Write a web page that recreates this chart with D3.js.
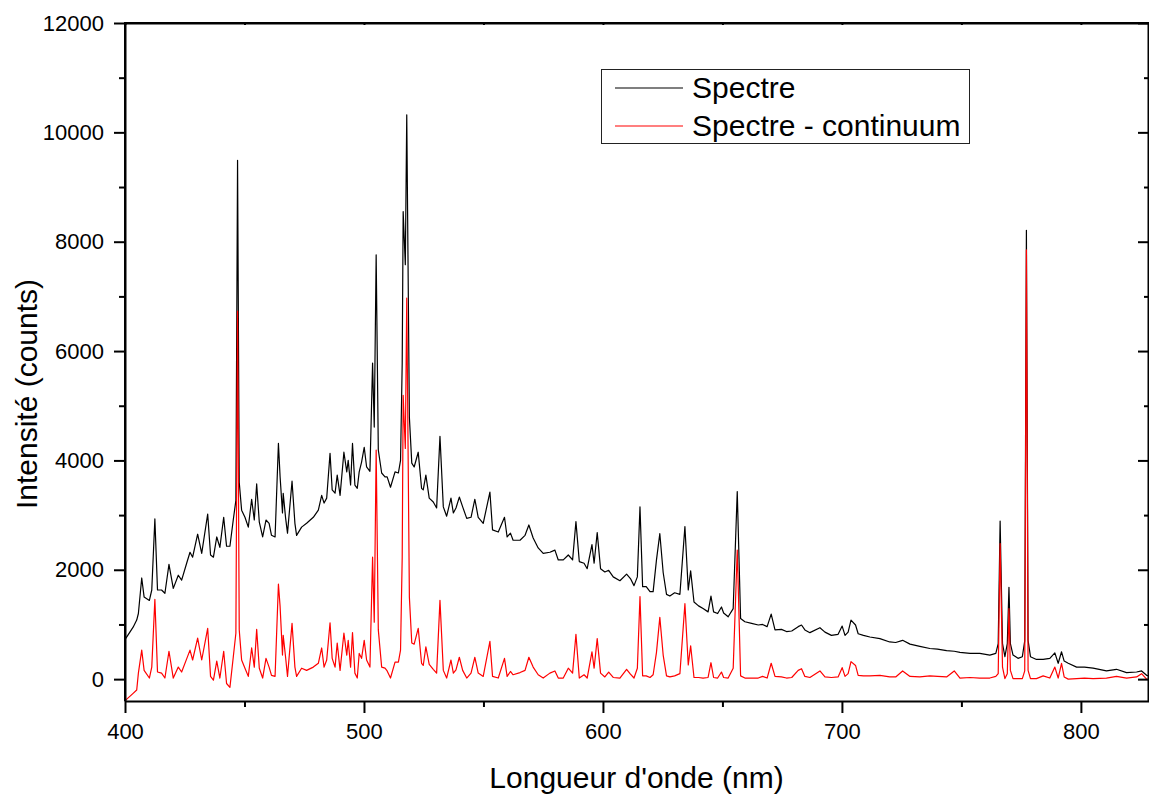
<!DOCTYPE html>
<html>
<head>
<meta charset="utf-8">
<script src="https://cdn.jsdelivr.net/npm/d3@7/dist/d3.min.js"></script>
<style>
  html, body { margin: 0; padding: 0; background: #fff; }
  svg { display: block; font-family: "Liberation Sans", Arial, sans-serif; }
</style>
</head>
<body>
<svg id="chart" width="1149" height="797"></svg>
<script>
// ---- Data ----
const wavelength = [
400.0,400.4,403.4,404.9,405.6,407.0,408.0,410.2,411.2,412.5,413.6,415.3,416.7,418.4,420.2,422.3,423.7,425.8,427.2,428.3,
430.4,432.1,434.6,435.8,437.0,438.4,439.7,441.3,442.5,443.9,445.3,446.4,447.1,447.8,448.8,450.2,451.6,453.0,454.1,455.1,
456.2,457.6,459.0,460.3,461.3,462.8,464.2,464.9,465.9,466.2,467.2,468.0,469.9,471.1,471.8,473.9,476.0,478.8,480.9,482.3,
483.3,484.4,485.8,486.7,487.9,488.8,490.0,491.6,492.8,493.4,494.4,495.2,496.2,497.2,498.0,499.0,500.1,501.1,502.5,503.6,
504.3,505.1,506.0,507.4,508.8,509.7,511.1,513.0,514.4,515.3,516.0,516.4,517.3,517.9,519.0,520.0,521.0,522.7,524.1,524.8,
525.9,527.3,529.0,530.4,531.8,533.2,534.6,536.4,537.4,538.5,539.9,541.3,543.0,544.8,546.4,547.8,549.9,552.7,553.8,556.2,
558.8,559.9,561.3,562.4,565.3,567.4,569.0,570.8,572.9,575.0,577.8,579.9,581.3,583.4,585.5,587.3,588.7,590.1,592.1,593.4,
595.4,596.3,597.6,599.0,600.8,602.4,604.3,607.1,609.9,611.5,613.0,614.4,615.5,616.6,618.1,619.7,621.0,622.4,623.8,625.2,
626.6,628.0,630.0,632.2,634.3,635.7,636.7,638.1,640.0,641.9,644.0,645.2,646.3,648.0,649.6,650.5,652.4,654.5,656.2,657.6,
659.4,662.2,665.0,666.8,668.7,670.4,672.0,674.7,676.8,679.0,681.7,683.1,684.5,686.6,690.8,692.9,695.6,698.4,700.1,701.3,
702.6,703.8,705.7,706.8,709.0,711.7,715.9,720.0,722.5,725.4,728.5,732.6,736.8,740.0,743.8,747.0,749.4,753.6,757.7,761.9,
764.4,765.4,766.2,767.2,768.2,769.2,769.9,770.5,771.6,773.7,775.5,776.5,777.2,777.9,778.9,781.4,784.2,787.0,789.1,790.5,
791.9,793.0,794.7,798.2,801.5,805.1,810.7,814.9,819.1,823.3,825.4,827.5,828.5
];
const spectre = [
730,750,950,1080,1200,1850,1500,1440,1630,2930,1630,1630,1570,2100,1660,1900,1810,2120,2320,2230,
2650,2300,3020,2270,2230,2600,2410,2960,2430,2430,2910,3270,9490,3600,3090,2960,2780,3290,2910,3570,
2870,2600,2910,2850,2630,2600,4310,3700,3040,3400,2950,2670,3620,2850,2630,2780,2850,2960,3090,3360,
3220,3310,4130,3460,3400,3730,3360,4150,3790,4000,3550,4310,3550,3490,3790,3970,4240,3880,3800,5780,
4610,7760,4190,3770,3700,3700,3510,3790,3770,4000,5780,8550,7580,10320,4790,3950,3880,4150,3490,3460,
3730,3310,3240,3130,4440,3150,2980,3310,3040,3130,3330,3150,2940,2960,3290,2960,2850,3420,2730,2690,
2960,2600,2670,2540,2540,2630,2820,2580,2400,2300,2320,2360,2180,2180,2270,2180,2880,2150,2120,2020,
2460,2120,2680,2020,1960,1990,1870,1800,1920,1840,1710,1870,3150,1690,1690,1600,1600,2180,2660,1950,
1550,1520,1580,1550,2790,1630,1980,1410,1340,1290,1230,1520,1230,1200,1320,1210,1140,1290,3430,1110,
1050,1020,990,1000,960,1190,900,910,870,880,960,990,900,850,940,860,800,820,970,800,
860,1080,990,830,800,770,740,680,670,710,640,600,560,550,520,510,490,470,470,440,
470,650,2890,650,410,650,1680,650,440,380,410,700,8210,710,410,360,360,380,480,290,
500,330,290,220,220,200,150,180,120,130,150,70,60
];
const spectreMoinsContinuum = [
-390,-380,-260,-200,110,530,160,20,220,1460,130,110,20,510,20,220,130,370,530,350,
750,350,930,50,-20,330,20,510,-80,-150,400,840,6730,900,350,200,50,570,220,910,
200,20,380,220,70,50,1740,1330,440,800,400,50,1020,220,50,200,160,220,290,570,
220,350,1030,380,220,660,160,840,440,710,220,850,110,20,470,380,710,350,220,2230,
1040,4190,900,220,200,150,20,310,310,530,2230,5190,4220,6970,1500,660,640,930,290,250,
590,270,180,110,1440,160,20,350,110,170,400,160,20,110,400,110,50,690,50,20,
380,50,140,80,120,160,400,220,80,20,110,150,20,20,200,110,820,20,80,20,
500,200,740,110,40,130,30,20,180,90,20,200,1510,60,60,30,80,490,1130,440,
60,40,60,100,1380,260,610,30,30,20,30,300,30,20,130,30,20,200,2360,60,
20,20,20,50,20,290,50,40,20,30,160,190,50,30,150,40,30,40,210,50,
100,320,250,70,60,60,70,40,40,150,50,40,60,50,40,150,20,30,20,20,
50,100,2480,220,10,100,1290,160,10,10,10,150,7850,160,10,10,60,20,220,20,
290,40,0,10,20,10,20,50,20,40,100,0,-10
];
const seriesNames = ["Spectre", "Spectre - continuum"];
const seriesColors = ["#000000", "#ff0000"];
const xMajorTicks = [400, 500, 600, 700, 800];
const xMinorTicks = [450, 550, 650, 750];
const yMajorTicks = [0, 2000, 4000, 6000, 8000, 10000, 12000];
const yMinorTicks = [1000, 3000, 5000, 7000, 9000, 11000];
const xTitle = "Longueur d'onde (nm)";
const yTitle = "Intensité (counts)";

// ---- Layout ----
const L = 125, R = 1148, T = 23, B = 701;
const svg = d3.select("#chart");
const x = d3.scaleLinear().domain([400, 828.5]).range([L, R + 1]);
const y = d3.scaleLinear().domain([-400, 12000]).range([B, T]);

const rows = wavelength.map((w, i) => ({ w, a: spectre[i], b: spectreMoinsContinuum[i] }));

// data lines
const lineA = d3.line().x(d => x(d.w)).y(d => y(d.a));
const lineB = d3.line().x(d => x(d.w)).y(d => y(d.b));
svg.append("path").datum(rows).attr("d", lineA)
  .attr("fill", "none").attr("stroke", seriesColors[0]).attr("stroke-width", 1.2).attr("stroke-linejoin", "round");
svg.append("path").datum(rows).attr("d", lineB)
  .attr("fill", "none").attr("stroke", seriesColors[1]).attr("stroke-width", 1.2).attr("stroke-linejoin", "round");

// axes
const axisStyle = g => {
  g.selectAll(".domain").attr("stroke", "#000").attr("stroke-width", 2);
  g.selectAll(".tick line").attr("stroke", "#000").attr("stroke-width", 2);
};
// bottom
const gB = svg.append("g").attr("transform", `translate(0,${B})`);
gB.call(d3.axisBottom(x).tickValues(xMajorTicks).tickSize(12).tickSizeOuter(0).tickPadding(10).tickFormat(d3.format("d")));
gB.call(axisStyle);
gB.selectAll(".tick text").attr("font-size", 22).attr("fill", "#000").attr("font-family", "Liberation Sans, Arial, sans-serif");
const gBm = svg.append("g").attr("transform", `translate(0,${B})`);
gBm.call(d3.axisBottom(x).tickValues(xMinorTicks).tickSize(6).tickSizeOuter(0).tickFormat(""));
gBm.call(axisStyle); gBm.select(".domain").remove();

// left
const gL = svg.append("g").attr("transform", `translate(${L},0)`);
gL.call(d3.axisLeft(y).tickValues(yMajorTicks).tickSize(11).tickSizeOuter(0).tickPadding(10).tickFormat(d3.format("d")));
gL.call(axisStyle);
gL.selectAll(".tick text").attr("font-size", 22).attr("fill", "#000").attr("font-family", "Liberation Sans, Arial, sans-serif");
const gLm = svg.append("g").attr("transform", `translate(${L},0)`);
gLm.call(d3.axisLeft(y).tickValues(yMinorTicks).tickSize(6).tickSizeOuter(0).tickFormat(""));
gLm.call(axisStyle); gLm.select(".domain").remove();
// extend left domain to top
svg.append("line").attr("x1", L).attr("x2", L).attr("y1", T).attr("y2", B).attr("stroke", "#000").attr("stroke-width", 2);

// right (ticks inward)
const gR = svg.append("g").attr("transform", `translate(${R},0)`);
gR.call(d3.axisLeft(y).tickValues(yMajorTicks).tickSize(10).tickSizeOuter(0).tickFormat(""));
gR.call(axisStyle);
const gRm = svg.append("g").attr("transform", `translate(${R},0)`);
gRm.call(d3.axisLeft(y).tickValues(yMinorTicks).tickSize(4).tickSizeOuter(0).tickFormat(""));
gRm.call(axisStyle); gRm.select(".domain").remove();

// top (tiny inward ticks)
const gT = svg.append("g").attr("transform", `translate(0,${T})`);
gT.call(d3.axisBottom(x).tickValues(xMajorTicks.concat(xMinorTicks)).tickSize(2).tickSizeOuter(0).tickFormat(""));
gT.call(axisStyle);
svg.append("line").attr("x1", L - 1).attr("x2", 1149).attr("y1", T).attr("y2", T).attr("stroke", "#000").attr("stroke-width", 2);

// titles
svg.append("text").attr("x", (L + R) / 2).attr("y", 788).attr("text-anchor", "middle")
  .attr("font-size", 30).attr("fill", "#000").text(xTitle);
svg.append("text").attr("transform", `translate(37,${(T + B) / 2 + 32}) rotate(-90)`).attr("text-anchor", "middle")
  .attr("font-size", 30).attr("fill", "#000").text(yTitle);

// legend
const lg = svg.append("g");
lg.append("rect").attr("x", 601.5).attr("y", 69.5).attr("width", 368).attr("height", 74)
  .attr("fill", "#fff").attr("stroke", "#222").attr("stroke-width", 1);
seriesNames.forEach((name, i) => {
  const cy = 88 + i * 38;
  lg.append("line").attr("x1", 615).attr("x2", 683).attr("y1", cy).attr("y2", cy)
    .attr("stroke", seriesColors[i]).attr("stroke-width", 1.2);
  lg.append("text").attr("x", 692).attr("y", cy + 10).attr("font-size", 30).attr("fill", "#000").text(name);
});
</script>
</body>
</html>
